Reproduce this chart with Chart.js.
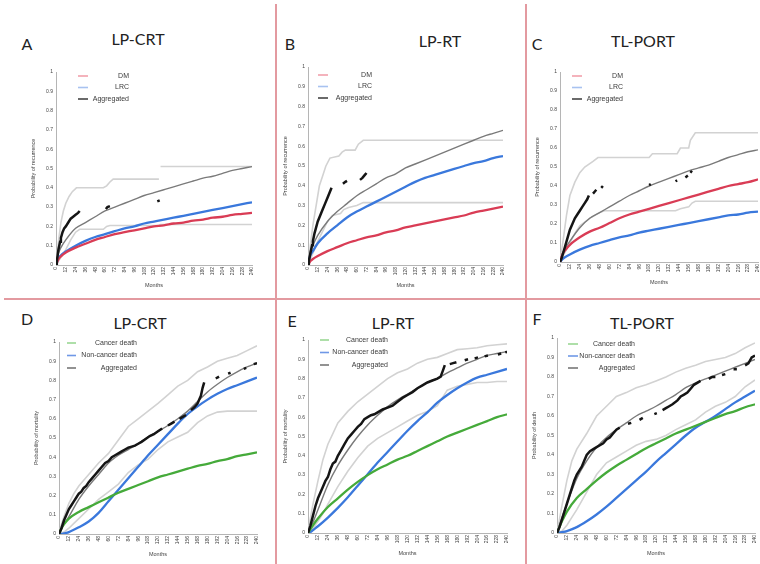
<!DOCTYPE html>
<html>
<head>
<meta charset="utf-8">
<script src="https://cdn.jsdelivr.net/npm/chart.js@4.4.1/dist/chart.umd.min.js"></script>
<style>
  html, body { margin: 0; padding: 0; background: #fff; }
  body { width: 760px; height: 564px; position: relative; overflow: hidden; }
  canvas { position: absolute; }
  .lbl { position: absolute; transform: translate(-50%, -50%); font-family: Lato, 'Open Sans', sans-serif; font-size: 16px; color: #222; white-space: nowrap; }
  .rule { position: absolute; background: #e39aa0; }
</style>
</head>
<body>
<div class="rule" style="left:275px;top:4px;width:2px;height:560px"></div>
<div class="rule" style="left:525px;top:4px;width:2px;height:560px"></div>
<div class="rule" style="left:4px;top:298px;width:756px;height:2px"></div>

<div class="lbl" style="left:27px;top:43px">A</div>
<div class="lbl" style="left:138px;top:38px">LP-CRT</div>
<div class="lbl" style="left:290px;top:43px">B</div>
<div class="lbl" style="left:440px;top:40px">LP-RT</div>
<div class="lbl" style="left:537px;top:43px">C</div>
<div class="lbl" style="left:643px;top:40px">TL-PORT</div>
<div class="lbl" style="left:27px;top:318px">D</div>
<div class="lbl" style="left:140px;top:322px">LP-CRT</div>
<div class="lbl" style="left:292px;top:320px">E</div>
<div class="lbl" style="left:393px;top:322px">LP-RT</div>
<div class="lbl" style="left:537px;top:318px">F</div>
<div class="lbl" style="left:642px;top:322px">TL-PORT</div>

<script>
// months at which the fitted curves are sampled
const fitMonths = [0, 3, 6, 12, 24, 36, 48, 60, 72, 84, 96, 108, 120, 132, 144, 156, 168, 180, 192, 204, 216, 228, 240];
const ciMonths = [0, 3, 6, 12, 18, 24, 36, 48, 60, 72, 84, 96, 108, 120, 132, 144, 156, 168, 180, 192, 204, 216, 228, 240];
const monthTicks = [0, 240, 12]; // min, max, step

// A: LP-CRT recurrence
const aDM = [0, 0.03, 0.045, 0.065, 0.09, 0.11, 0.13, 0.145, 0.16, 0.17, 0.18, 0.19, 0.20, 0.205, 0.215, 0.22, 0.23, 0.235, 0.245, 0.25, 0.26, 0.265, 0.27];
const aLRC = [0, 0.035, 0.05, 0.07, 0.10, 0.125, 0.145, 0.16, 0.175, 0.19, 0.20, 0.215, 0.225, 0.235, 0.245, 0.255, 0.265, 0.275, 0.285, 0.295, 0.305, 0.315, 0.325];
const aAgg = [0, 0.06, 0.09, 0.13, 0.19, 0.22, 0.25, 0.28, 0.30, 0.32, 0.34, 0.36, 0.375, 0.39, 0.405, 0.42, 0.435, 0.45, 0.46, 0.475, 0.49, 0.50, 0.51];
const aUpperMonths = [0, 3, 6, 9, 12, 16, 20, 25, 58, 62, 66, 70, 126, 127, 128, 240];
const aUpper = [0, 0.12, 0.22, 0.28, 0.32, 0.355, 0.38, 0.40, 0.40, 0.41, 0.43, 0.445, 0.445, null, 0.51, 0.51];
const aLowerMonths = [0, 6, 12, 18, 24, 29, 58, 62, 66, 126, 128, 240];
const aLower = [0, 0.04, 0.08, 0.13, 0.17, 0.185, 0.185, 0.2, 0.205, 0.205, 0.21, 0.21];
const aKmMonths = [0, 1, 2, 3, 4, 5, 6, 8, 10, 12, 15, 18, 21, 24, 27, 29, 45, 61, 63, 66, 96, 124, 127];
const aKm = [0, 0.02, 0.05, 0.08, 0.10, 0.12, 0.14, 0.17, 0.19, 0.20, 0.22, 0.24, 0.25, 0.26, 0.27, 0.28, null, 0.29, 0.30, 0.305, null, 0.33, 0.335];

// B: LP-RT recurrence
const bDM = [0, 0.02, 0.03, 0.045, 0.07, 0.09, 0.11, 0.125, 0.14, 0.15, 0.165, 0.175, 0.19, 0.20, 0.21, 0.22, 0.23, 0.24, 0.25, 0.265, 0.275, 0.285, 0.295];
const bLRC = [0, 0.05, 0.07, 0.11, 0.16, 0.20, 0.24, 0.27, 0.295, 0.32, 0.345, 0.37, 0.395, 0.42, 0.44, 0.455, 0.47, 0.485, 0.50, 0.515, 0.525, 0.54, 0.55];
const bAgg = [0, 0.07, 0.10, 0.15, 0.22, 0.27, 0.31, 0.35, 0.38, 0.41, 0.44, 0.46, 0.49, 0.51, 0.53, 0.55, 0.57, 0.59, 0.61, 0.63, 0.65, 0.665, 0.68];
const bUpperMonths = [0, 3, 6, 10, 14, 18, 22, 27, 38, 42, 46, 58, 62, 68, 240];
const bUpper = [0, 0.1, 0.2, 0.3, 0.4, 0.45, 0.5, 0.54, 0.55, 0.57, 0.58, 0.58, 0.61, 0.63, 0.63];
const bLowerMonths = [0, 6, 12, 18, 24, 30, 40, 44, 50, 60, 68, 240];
const bLower = [0, 0.06, 0.12, 0.17, 0.22, 0.25, 0.26, 0.28, 0.29, 0.30, 0.315, 0.315];
const bKmMonths = [0, 1, 2, 3, 4, 5, 6, 8, 10, 12, 15, 18, 21, 24, 27, 29, 36, 43, 46, 48, 56, 64, 67, 70, 72];
const bKm = [0, 0.02, 0.04, 0.06, 0.08, 0.10, 0.12, 0.16, 0.19, 0.22, 0.25, 0.28, 0.31, 0.34, 0.37, 0.39, null, 0.41, 0.42, 0.425, null, 0.43, 0.44, 0.455, 0.465];

// C: TL-PORT recurrence
const cDM = [0, 0.04, 0.06, 0.09, 0.13, 0.16, 0.18, 0.205, 0.23, 0.25, 0.265, 0.28, 0.295, 0.31, 0.325, 0.34, 0.355, 0.37, 0.385, 0.40, 0.41, 0.42, 0.435];
const cLRC = [0, 0.015, 0.025, 0.04, 0.065, 0.085, 0.10, 0.115, 0.13, 0.14, 0.155, 0.165, 0.175, 0.185, 0.195, 0.205, 0.215, 0.225, 0.235, 0.245, 0.25, 0.26, 0.265];
const cAgg = [0, 0.045, 0.07, 0.11, 0.18, 0.23, 0.26, 0.29, 0.32, 0.35, 0.375, 0.40, 0.42, 0.44, 0.46, 0.48, 0.495, 0.51, 0.53, 0.55, 0.565, 0.58, 0.59];
const cUpperMonths = [0, 4, 8, 12, 18, 24, 30, 40, 46, 108, 112, 142, 146, 156, 158, 164, 240];
const cUpper = [0, 0.12, 0.25, 0.35, 0.42, 0.47, 0.50, 0.53, 0.55, 0.55, 0.57, 0.57, 0.60, 0.60, 0.64, 0.68, 0.68];
const cLowerMonths = [0, 6, 12, 18, 24, 36, 48, 54, 140, 146, 156, 160, 164, 240];
const cLower = [0, 0.05, 0.1, 0.15, 0.19, 0.23, 0.26, 0.27, 0.27, 0.28, 0.29, 0.31, 0.32, 0.32];
const cKmMonths = [0, 2, 4, 6, 8, 10, 12, 15, 18, 21, 24, 27, 30, 33, 35, 38, 40, 42, 44, 47, 50, 52, 80, 108, 110, 125, 140, 142, 148, 152, 155, 157, 158, 160];
const cKm = [0, 0.02, 0.05, 0.08, 0.11, 0.14, 0.17, 0.20, 0.23, 0.25, 0.27, 0.29, 0.31, 0.33, 0.35, null, 0.36, 0.37, 0.38, null, 0.39, 0.40, null, 0.405, 0.41, null, 0.425, 0.43, null, 0.445, 0.455, null, 0.47, 0.48];

// D: LP-CRT mortality
const dCancer = [0, 0.03, 0.05, 0.08, 0.115, 0.14, 0.165, 0.19, 0.215, 0.235, 0.255, 0.275, 0.295, 0.31, 0.325, 0.34, 0.355, 0.365, 0.38, 0.39, 0.405, 0.415, 0.425];
const dNonCancer = [0, 0, 0.003, 0.01, 0.035, 0.065, 0.11, 0.17, 0.23, 0.29, 0.35, 0.41, 0.465, 0.52, 0.575, 0.625, 0.665, 0.70, 0.73, 0.755, 0.775, 0.795, 0.815];
const dAgg = [0, 0.025, 0.05, 0.09, 0.18, 0.25, 0.31, 0.37, 0.41, 0.44, 0.47, 0.505, 0.535, 0.565, 0.60, 0.64, 0.69, 0.74, 0.78, 0.815, 0.845, 0.87, 0.89];
const dUpper = [0, 0.05, 0.09, 0.16, 0.21, 0.25, 0.31, 0.37, 0.42, 0.49, 0.56, 0.60, 0.64, 0.68, 0.725, 0.77, 0.80, 0.845, 0.87, 0.90, 0.915, 0.93, 0.955, 0.98];
const dLower = [0, 0.005, 0.01, 0.03, 0.055, 0.08, 0.13, 0.18, 0.22, 0.26, 0.32, 0.36, 0.39, 0.44, 0.48, 0.505, 0.53, 0.58, 0.615, 0.635, 0.64, 0.64, 0.64, 0.64];
const dKmMonths = [0, 3, 6, 9, 12, 15, 18, 21, 24, 27, 30, 33, 36, 40, 44, 48, 52, 56, 60, 64, 68, 72, 76, 80, 84, 88, 92, 96, 100, 105, 110, 115, 120, 125, 128, 132, 136, 140, 143, 146, 150, 154, 157, 160, 164, 168, 170, 172, 174, 176, 183, 190, 194, 199, 205, 208, 216, 224, 227, 232, 236, 240];
const dKm = [0, 0.03, 0.07, 0.10, 0.13, 0.15, 0.17, 0.19, 0.21, 0.22, 0.24, 0.25, 0.27, 0.29, 0.31, 0.33, 0.35, 0.37, 0.38, 0.40, 0.41, 0.42, 0.43, 0.44, 0.45, 0.455, 0.46, 0.47, 0.48, 0.495, 0.51, 0.52, 0.535, 0.55, null, 0.565, 0.575, 0.585, null, 0.60, 0.61, 0.62, null, 0.645, 0.66, 0.68, 0.70, 0.72, 0.76, 0.79, null, 0.81, 0.82, null, 0.835, 0.84, null, 0.86, 0.865, null, 0.885, 0.89];

// E: LP-RT mortality
const eCancer = [0, 0.02, 0.04, 0.075, 0.135, 0.18, 0.225, 0.265, 0.30, 0.33, 0.355, 0.38, 0.40, 0.425, 0.45, 0.475, 0.50, 0.52, 0.54, 0.56, 0.58, 0.60, 0.615];
const eNonCancer = [0, 0.005, 0.015, 0.035, 0.08, 0.13, 0.185, 0.245, 0.305, 0.365, 0.42, 0.475, 0.53, 0.58, 0.625, 0.675, 0.715, 0.75, 0.78, 0.805, 0.82, 0.835, 0.85];
const eAgg = [0, 0.025, 0.055, 0.12, 0.25, 0.35, 0.43, 0.50, 0.56, 0.61, 0.655, 0.69, 0.72, 0.75, 0.78, 0.80, 0.83, 0.855, 0.88, 0.90, 0.92, 0.93, 0.94];
const eUpper = [0, 0.08, 0.15, 0.27, 0.38, 0.46, 0.57, 0.63, 0.68, 0.72, 0.76, 0.80, 0.83, 0.85, 0.88, 0.90, 0.91, 0.93, 0.95, 0.955, 0.96, 0.97, 0.975, 0.98];
const eLower = [0, 0.01, 0.025, 0.06, 0.10, 0.15, 0.24, 0.32, 0.39, 0.45, 0.49, 0.52, 0.55, 0.58, 0.61, 0.63, 0.66, 0.74, 0.76, 0.77, 0.78, 0.78, 0.785, 0.785];
const eKmMonths = [0, 3, 6, 9, 12, 15, 18, 21, 24, 27, 30, 33, 36, 40, 44, 48, 52, 56, 60, 64, 68, 72, 76, 80, 84, 90, 96, 102, 108, 114, 120, 126, 132, 138, 144, 150, 156, 160, 163, 165, 168, 171, 175, 179, 185, 189, 193, 197, 201, 205, 210, 213, 217, 223, 229, 233, 236, 238, 240];
const eKm = [0, 0.04, 0.09, 0.14, 0.18, 0.21, 0.24, 0.27, 0.29, 0.33, 0.36, 0.37, 0.40, 0.43, 0.46, 0.49, 0.51, 0.53, 0.55, 0.565, 0.59, 0.60, 0.61, 0.615, 0.625, 0.64, 0.65, 0.66, 0.68, 0.70, 0.715, 0.73, 0.75, 0.765, 0.78, 0.79, 0.80, 0.81, 0.845, 0.87, null, 0.875, 0.88, 0.885, null, 0.895, 0.90, null, 0.905, 0.91, null, 0.915, 0.92, null, 0.925, 0.93, null, 0.935, 0.94];

// F: TL-PORT mortality
const fCancer = [0, 0.03, 0.06, 0.11, 0.18, 0.225, 0.27, 0.31, 0.345, 0.375, 0.405, 0.435, 0.46, 0.485, 0.51, 0.53, 0.55, 0.57, 0.59, 0.61, 0.625, 0.645, 0.66];
const fNonCancer = [0, 0.002, 0.004, 0.01, 0.03, 0.06, 0.095, 0.135, 0.18, 0.225, 0.27, 0.315, 0.365, 0.41, 0.455, 0.50, 0.54, 0.57, 0.60, 0.635, 0.67, 0.70, 0.73];
const fAgg = [0, 0.04, 0.08, 0.15, 0.28, 0.37, 0.44, 0.49, 0.53, 0.565, 0.60, 0.625, 0.65, 0.68, 0.71, 0.745, 0.77, 0.79, 0.81, 0.83, 0.85, 0.87, 0.89];
const fUpper = [0, 0.07, 0.14, 0.27, 0.37, 0.43, 0.51, 0.60, 0.65, 0.70, 0.72, 0.745, 0.76, 0.78, 0.80, 0.825, 0.845, 0.86, 0.88, 0.89, 0.90, 0.92, 0.95, 0.975];
const fLower = [0, 0.005, 0.01, 0.04, 0.08, 0.12, 0.21, 0.30, 0.36, 0.39, 0.42, 0.45, 0.47, 0.48, 0.50, 0.53, 0.555, 0.58, 0.62, 0.65, 0.67, 0.70, 0.75, 0.785];
const fKmMonths = [0, 3, 6, 9, 12, 15, 18, 21, 24, 27, 30, 33, 36, 40, 44, 48, 52, 56, 60, 64, 68, 72, 76, 81, 86, 90, 95, 100, 104, 111, 118, 121, 125, 128, 132, 136, 140, 146, 150, 154, 158, 162, 166, 170, 174, 179, 184, 188, 192, 196, 200, 204, 209, 214, 218, 223, 228, 232, 236, 240];
const fKm = [0, 0.03, 0.07, 0.11, 0.15, 0.19, 0.23, 0.27, 0.30, 0.32, 0.34, 0.37, 0.40, 0.42, 0.43, 0.44, 0.45, 0.46, 0.48, 0.49, 0.51, 0.53, 0.54, null, 0.56, 0.565, null, 0.58, 0.59, null, 0.61, 0.615, null, 0.63, 0.64, 0.65, 0.66, 0.68, 0.70, 0.71, 0.72, 0.74, 0.76, 0.77, 0.78, null, 0.79, 0.80, 0.80, null, 0.81, 0.815, null, 0.84, 0.84, null, 0.86, 0.87, 0.90, 0.91];

const RED = '#d93c55', BLUE = '#3a78dc', GREEN = '#45aa3a';
const AGG = '#7a7a7a', CI = '#d2d2d2', KM = '#151515';

Chart.defaults.font.family = "'Liberation Sans', Arial, sans-serif";
Chart.defaults.color = '#333';

const pts = (xs, ys) => xs.map((x, i) => ({ x: x, y: ys[i] }));

function fit(xs, ys, color, width) {
  return { data: pts(xs, ys), borderColor: color, borderWidth: width, cubicInterpolationMode: 'monotone', order: 1 };
}
function band(xs, ys) {
  return { data: pts(xs, ys), borderColor: CI, borderWidth: 1.6, tension: 0, order: 3 };
}
function km(xs, ys) {
  return { data: pts(xs, ys), borderColor: KM, borderWidth: 2.5, tension: 0, order: 0, spanGaps: false };
}

// small in-plot key: coloured dash + right aligned text
const panelKey = {
  id: 'panelKey',
  afterDraw(chart, args, opts) {
    if (!opts || !opts.items) return;
    const { ctx, chartArea } = chart;
    ctx.save();
    ctx.font = "7px 'Liberation Sans', Arial, sans-serif";
    ctx.textAlign = 'right';
    ctx.textBaseline = 'middle';
    opts.items.forEach((it, i) => {
      const y = chartArea.top + opts.top + i * opts.gap;
      const x0 = chartArea.left + opts.dashX;
      ctx.strokeStyle = it.color;
      ctx.lineWidth = 1.6;
      ctx.beginPath();
      ctx.moveTo(x0, y);
      ctx.lineTo(x0 + opts.dashW, y);
      ctx.stroke();
      ctx.fillStyle = '#3a3a3a';
      ctx.fillText(it.label, chartArea.left + opts.textRight, y);
    });
    ctx.restore();
  }
};

const recKey = [
  { label: 'DM', color: '#f2a0ac' },
  { label: 'LRC', color: '#a8c2f0' },
  { label: 'Aggregated', color: '#444' }
];
const mortKey = [
  { label: 'Cancer death', color: '#9ad894' },
  { label: 'Non-cancer death', color: '#6f98e6' },
  { label: 'Aggregated', color: '#777' }
];

const panels = [
  { area: [56, 72, 252, 265], yTitle: 'Probability of recurrence',
    key: { items: recKey, dashX: 22, dashW: 10, textRight: 73, top: 4, gap: 11.5 },
    datasets: [km(aKmMonths, aKm), fit(fitMonths, aDM, RED, 2.3), fit(fitMonths, aLRC, BLUE, 2.3),
      { ...fit(fitMonths, aAgg, AGG, 1.4), order: 2 }, band(aUpperMonths, aUpper), band(aLowerMonths, aLower)] },
  { area: [308, 67, 503, 265], yTitle: 'Probability of recurrence',
    key: { items: recKey, dashX: 10, dashW: 10, textRight: 64, top: 8, gap: 11.5 },
    datasets: [km(bKmMonths, bKm), fit(fitMonths, bDM, RED, 2.3), fit(fitMonths, bLRC, BLUE, 2.3),
      { ...fit(fitMonths, bAgg, AGG, 1.4), order: 2 }, band(bUpperMonths, bUpper), band(bLowerMonths, bLower)] },
  { area: [560, 72, 758, 262], yTitle: 'Probability of recurrence',
    key: { items: recKey, dashX: 12, dashW: 10, textRight: 63, top: 4, gap: 11.5 },
    datasets: [km(cKmMonths, cKm), fit(fitMonths, cDM, RED, 2.3), fit(fitMonths, cLRC, BLUE, 2.3),
      { ...fit(fitMonths, cAgg, AGG, 1.4), order: 2 }, band(cUpperMonths, cUpper), band(cLowerMonths, cLower)] },
  { area: [59, 342, 257, 534], yTitle: 'Probability of mortality',
    key: { items: mortKey, dashX: 8, dashW: 9, textRight: 78, top: 1, gap: 12.5 },
    datasets: [km(dKmMonths, dKm), fit(fitMonths, dCancer, GREEN, 2.3), fit(fitMonths, dNonCancer, BLUE, 2.3),
      { ...fit(fitMonths, dAgg, AGG, 1.4), order: 2 }, band(ciMonths, dUpper), band(ciMonths, dLower)] },
  { area: [308, 340, 507, 533], yTitle: 'Probability of mortality',
    key: { items: mortKey, dashX: 12, dashW: 9, textRight: 80, top: 0, gap: 12.5 },
    datasets: [km(eKmMonths, eKm), fit(fitMonths, eCancer, GREEN, 2.3), fit(fitMonths, eNonCancer, BLUE, 2.3),
      { ...fit(fitMonths, eAgg, AGG, 1.4), order: 2 }, band(ciMonths, eUpper), band(ciMonths, eLower)] },
  { area: [557, 338, 755, 533], yTitle: 'Probability of death',
    key: { items: mortKey, dashX: 11, dashW: 10, textRight: 78, top: 6, gap: 12 },
    datasets: [km(fKmMonths, fKm), fit(fitMonths, fCancer, GREEN, 2.3), fit(fitMonths, fNonCancer, BLUE, 2.3),
      { ...fit(fitMonths, fAgg, AGG, 1.4), order: 2 }, band(ciMonths, fUpper), band(ciMonths, fLower)] }
];

function drawPanel(p) {
  const padL = 26, padT = 8, padR = 2, padB = 24;
  const [l, t, r, b] = p.area;
  const cv = document.createElement('canvas');
  cv.width = r - l + padL + padR;
  cv.height = b - t + padT + padB;
  cv.style.left = (l - padL) + 'px';
  cv.style.top = (t - padT) + 'px';
  document.body.appendChild(cv);

  new Chart(cv, {
    type: 'line',
    data: { datasets: p.datasets },
    options: {
      responsive: false,
      animation: false,
      devicePixelRatio: 1,
      layout: { padding: { top: padT, right: padR, left: 0, bottom: 0 } },
      elements: { point: { radius: 0 } },
      plugins: { legend: { display: false }, tooltip: { enabled: false }, panelKey: p.key },
      scales: {
        x: {
          type: 'linear', min: monthTicks[0], max: monthTicks[1],
          grid: { display: false, drawTicks: false },
          border: { color: '#b5b5b5', width: 1 },
          ticks: { stepSize: monthTicks[2], autoSkip: false, minRotation: 90, maxRotation: 90,
            font: { size: 5 }, color: '#444', padding: 2 },
          title: { display: true, text: 'Months', font: { size: 5.5 }, color: '#444', padding: 0 },
          // keep the plot edges fixed; the rotated end labels fit in the margins
          afterFit(s) { s.height = padB; s.paddingLeft = 0; s.paddingRight = 0; }
        },
        y: {
          min: 0, max: 1,
          grid: { display: false, drawTicks: false },
          border: { color: '#b5b5b5', width: 1 },
          ticks: { stepSize: 0.1, font: { size: 5 }, color: '#444', padding: 3,
            callback: v => String(+v.toFixed(1)) },
          title: { display: true, text: p.yTitle, font: { size: 5.5 }, color: '#444', padding: { top: 0, bottom: 1 } },
          afterFit(s) { s.width = padL; s.paddingTop = 0; s.paddingBottom = 0; }
        }
      }
    },
    plugins: [panelKey]
  });
}

panels.forEach(drawPanel);
</script>
</body>
</html>
